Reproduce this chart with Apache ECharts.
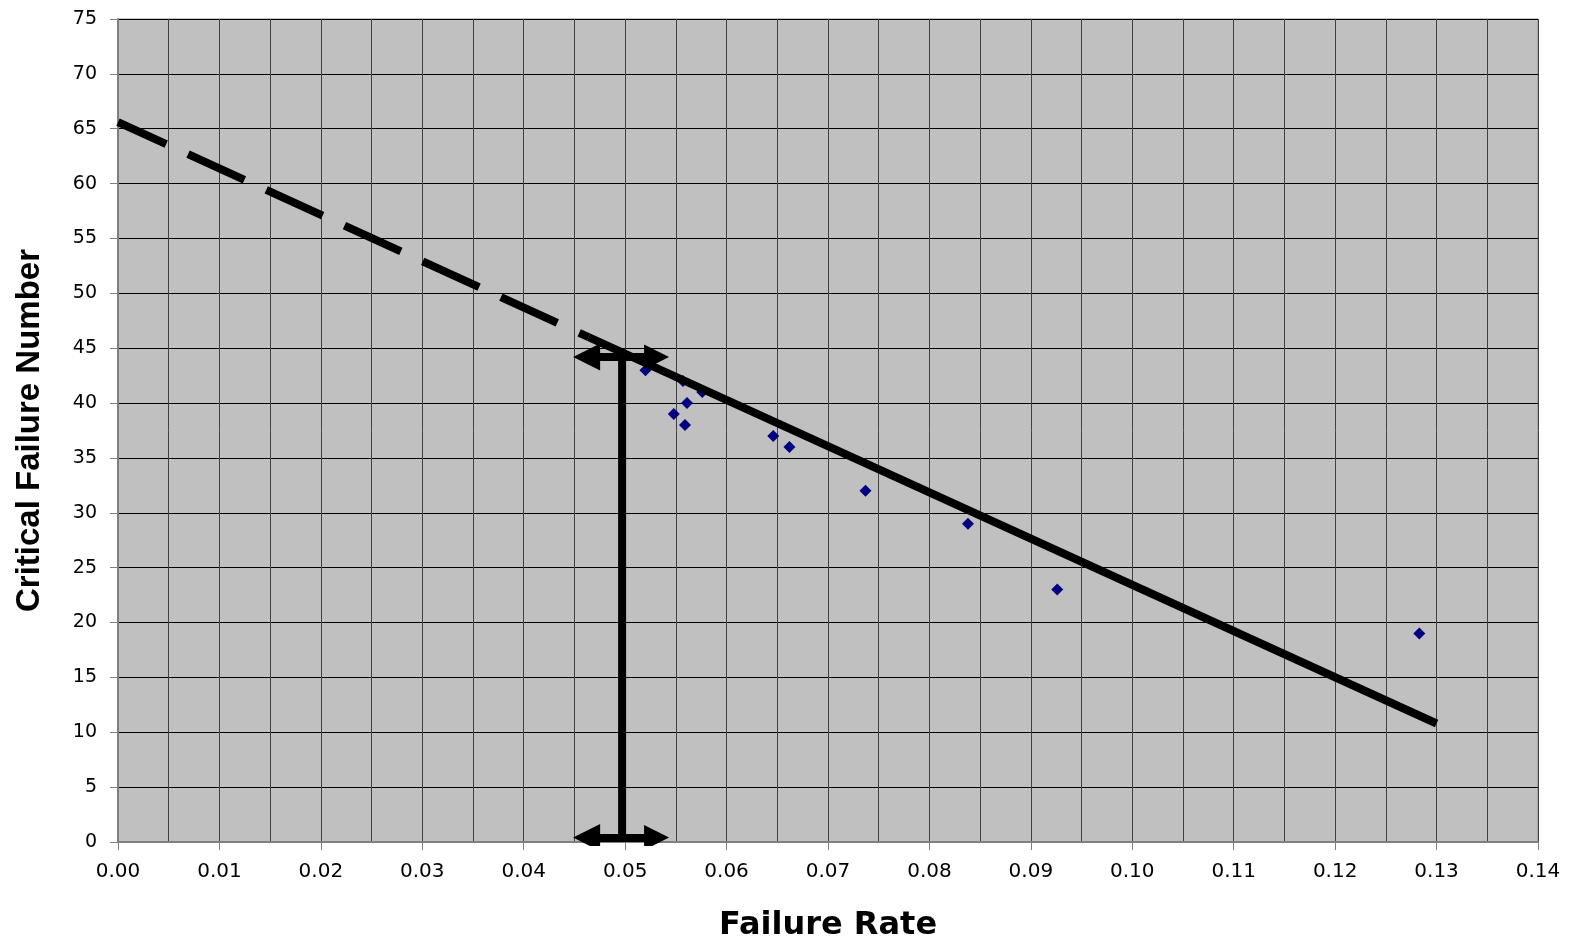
<!DOCTYPE html>
<html>
<head>
<meta charset="utf-8">
<style>
  html, body { margin: 0; padding: 0; background: #fff; }
  #chart { width: 1574px; height: 942px; }
</style>
<script src="https://cdn.jsdelivr.net/npm/echarts@6/dist/echarts.min.js"></script>
</head>
<body>
<div id="chart"></div>
<script>
// measured points (failure rate, critical failure number)
var rateX = [0.0520, 0.0557, 0.0576, 0.0561, 0.0548, 0.0559, 0.0646, 0.0662, 0.0737, 0.0838, 0.0926, 0.1283];
var failY = [43, 42, 41, 40, 39, 38, 37, 36, 32, 29, 23, 19];

// fitted line: dashed part (extrapolation) then solid part
var fitX = [0, 0.0464, 0.13];
var fitY = [65.6, 46.0, 10.8];

// read-off marker at the chosen rate
var markX = 0.0497;
var arrowX = [0.0462, 0.0531];   // ends of the horizontal double arrows
var arrowY = [44.2, 0.4];        // top arrow, bottom arrow

var yTicks = { min: 0, max: 75, interval: 5 };
var xTicks = { min: 0, max: 0.14, interval: 0.01 };

var chart = echarts.init(document.getElementById('chart'));

var scatterData = [];
for (var i = 0; i < rateX.length; i++) {
    scatterData.push([rateX[i], failY[i]]);
}

var fontFam = '"DejaVu Sans", "Liberation Sans", Arial, sans-serif';

var option = {
    animation: false,
    backgroundColor: '#ffffff',
    grid: {
        left: 118,
        right: 36,
        top: 19,
        bottom: 100,
        outerBoundsMode: 'none',
        show: true,
        backgroundColor: '#c0c0c0',
        borderColor: '#8c8c8c',
        borderWidth: 1
    },
    xAxis: {
        type: 'value',
        min: xTicks.min,
        max: xTicks.max,
        interval: xTicks.interval,
        name: 'Failure Rate',
        nameLocation: 'middle',
        nameGap: 68,
        nameTextStyle: {
            fontFamily: fontFam,
            fontWeight: 'bold',
            fontSize: 32,
            color: '#000'
        },
        axisLine: { show: true, onZero: false, lineStyle: { color: '#808080', width: 2 } },
        axisTick: { show: true, length: 8, lineStyle: { color: '#808080', width: 1 } },
        axisLabel: {
            margin: 20,
            fontFamily: fontFam,
            fontSize: 20,
            color: '#000',
            formatter: function (v) { return v.toFixed(2); }
        },
        splitLine: { show: true, lineStyle: { color: '#404040', width: 1 } },
        minorTick: { show: false, splitNumber: 2 },
        minorSplitLine: { show: true, lineStyle: { color: '#404040', width: 1 } }
    },
    yAxis: {
        type: 'value',
        min: yTicks.min,
        max: yTicks.max,
        interval: yTicks.interval,
        name: 'Critical Failure Number',
        nameLocation: 'middle',
        nameGap: 72,
        nameTextStyle: {
            fontFamily: '"Liberation Sans", Arial, sans-serif',
            fontWeight: 'bold',
            fontSize: 33,
            color: '#000'
        },
        axisLine: { show: true, lineStyle: { color: '#808080', width: 2 } },
        axisTick: { show: true, length: 8, lineStyle: { color: '#808080', width: 1 } },
        axisLabel: {
            margin: 21,
            fontFamily: fontFam,
            fontSize: 19,
            color: '#000'
        },
        splitLine: { show: true, lineStyle: { color: '#000', width: 1 } }
    },
    series: [
        {
            type: 'scatter',
            symbol: 'diamond',
            symbolSize: 12,
            itemStyle: { color: '#000080', opacity: 1 },
            data: scatterData,
            z: 2
        },
        {
            // extrapolated part, dashed
            type: 'line',
            showSymbol: false,
            symbol: 'none',
            data: [[fitX[0], fitY[0]], [fitX[1], fitY[1]]],
            lineStyle: { color: '#000', width: 8, type: [62, 24], dashOffset: 9, cap: 'butt' },
            z: 3
        },
        {
            type: 'line',
            showSymbol: false,
            symbol: 'none',
            data: [[fitX[1], fitY[1]], [fitX[2], fitY[2]]],
            lineStyle: { color: '#000', width: 8, cap: 'butt' },
            z: 3
        },
        {
            // vertical read-off line
            type: 'line',
            showSymbol: false,
            symbol: 'none',
            data: [[markX, arrowY[1]], [markX, arrowY[0]]],
            lineStyle: { color: '#000', width: 8 },
            z: 4
        },
        {
            // double headed arrows
            type: 'lines',
            coordinateSystem: 'cartesian2d',
            symbol: ['triangle', 'triangle'],
            symbolSize: [27, 25],
            lineStyle: { color: '#000', width: 8, opacity: 1, curveness: 0 },
            itemStyle: { color: '#000' },
            data: [
                { coords: [[arrowX[0], arrowY[0]], [arrowX[1], arrowY[0]]] },
                { coords: [[arrowX[0], arrowY[1]], [arrowX[1], arrowY[1]]] }
            ],
            z: 5
        }
    ]
};

chart.setOption(option);
</script>
</body>
</html>
